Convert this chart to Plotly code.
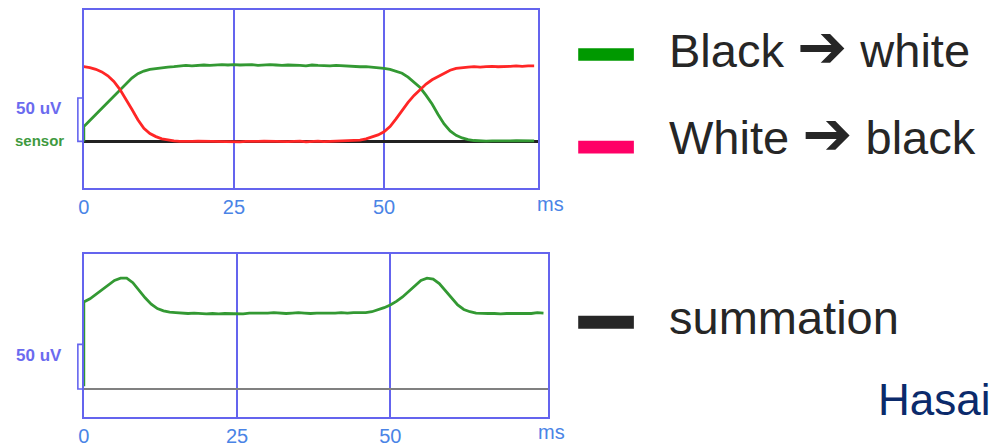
import plotly.graph_objects as go

W, H = 990, 447

# ---- data (ms, uV) ----
t_ms = [0, 0, 1, 2, 3, 4, 5, 6, 7, 8, 9, 10, 11, 12, 13, 14, 15, 16, 17, 18, 19,
        20, 21, 22, 23, 24, 25, 26, 27, 28, 29, 30, 31, 32, 33, 34, 35, 36, 37, 38, 39,
        40, 41, 42, 43, 44, 45, 46, 47, 48, 49, 50, 51, 52, 53, 54, 55, 56, 57, 58, 59,
        60, 61, 62, 63, 64, 65, 66, 67, 68, 69, 70, 71, 72, 73, 74, 75]

black_to_white = [0, 17, 24, 31, 38, 46, 53, 60, 67, 73, 78, 81, 83, 84, 85, 85.5, 86, 86.5, 87.5, 87, 87.5,
                  88, 87.5, 88, 88.5, 88, 88.5, 88, 88, 88.5, 87.5, 88, 88.5, 88, 87.5, 88, 88, 87.5, 87, 88, 87.5,
                  87, 87, 87.5, 87, 86.5, 86.5, 86, 86, 85.5, 85, 84, 83, 81, 78.5, 74, 68, 62, 53, 43, 31,
                  20, 12, 7, 4, 2, 1, 0.5, 0.3, 0.5, 0.3, 0, 0.5, 0.8, 0.5, 0.5, 0.6]

white_to_black = [86, 86, 85, 83, 80, 75.5, 69, 60, 49, 37, 25, 15, 9, 5.5, 3, 1.5, 0.5, 0, -0.3, 0, 0.2,
                  0, -0.3, 0, -0.4, -0.6, -0.9, -0.5, 0, -0.3, 0, 0.2, 0, -0.4, 0, -0.2, 0, 0.3, -0.6, 0, 0.2,
                  -0.3, 0, 0.2, 0, 0.3, 0.8, 1.5, 3, 5, 7.5, 11, 17, 26, 36, 45, 53, 60, 66, 71, 75,
                  79, 82, 84, 85, 85.5, 86, 85.5, 86, 86.5, 86, 86, 86.5, 87, 86.5, 87, 87]

summation = [3, 97.5, 101, 106, 111, 117, 121.5, 124, 124, 119, 110, 102, 95, 90, 87.5, 86, 85.5, 85, 84.5, 85, 84.5,
             84, 84.5, 84, 84.5, 84.5, 84.5, 84, 85, 85, 84.5, 85, 85.5, 85, 84.5, 85, 85.5, 85, 84.5, 85, 85,
             84.5, 85, 85.5, 85, 85.5, 85.5, 85.5, 86.5, 88.5, 91, 94, 98, 103, 109, 116, 121.5, 124, 123, 118, 110,
             101, 94, 89, 86.5, 85, 84.5, 84.5, 84.5, 84, 84.5, 84.5, 84.5, 84, 84.5, 85.5, 85]

tick_vals = [0, 25, 50]
tick_text = ["0", "25", "50"]
ARROW = "<span style='font-family:DejaVu Sans;font-size:60px'>\u2794</span>"
legend_labels = [f"Black {ARROW} white", f"White {ARROW} black", "summation"]

X_SHIFT = -5


def px(x):
    return (x + X_SHIFT) / W


def py(y):
    return 1 - y / H


BLUE = "#6464ee"
TICKBLUE = "#4a84e6"
GREEN = "#339933"
RED = "#ff2626"

fig = go.Figure()
fig.add_trace(go.Scatter(x=t_ms, y=black_to_white, mode="lines",
                         line=dict(color=GREEN, width=2.8), xaxis="x", yaxis="y",
                         showlegend=False))
fig.add_trace(go.Scatter(x=t_ms, y=white_to_black, mode="lines",
                         line=dict(color=RED, width=2.8), xaxis="x", yaxis="y",
                         showlegend=False))
fig.add_trace(go.Scatter(x=t_ms, y=summation, mode="lines",
                         line=dict(color=GREEN, width=2.8), xaxis="x2", yaxis="y2",
                         showlegend=False))

xcommon = dict(tickvals=tick_vals, ticktext=tick_text, showgrid=True, gridcolor=BLUE,
               gridwidth=2, showline=True, mirror=True, linecolor=BLUE, linewidth=2,
               zeroline=False, ticks="", tickfont=dict(family="Liberation Sans", size=20, color=TICKBLUE),
               fixedrange=True)
ycommon = dict(showticklabels=False, showgrid=False, showline=True, mirror=True,
               linecolor=BLUE, linewidth=2, ticks="", zeroline=True, fixedrange=True)

fig.update_layout(
    width=W, height=H, margin=dict(l=0, r=0, t=0, b=0),
    paper_bgcolor="white", plot_bgcolor="white",
    xaxis=dict(domain=[px(83.3), px(540)], range=[0, 75.6], anchor="y", **xcommon),
    yaxis=dict(domain=[py(191), py(10)], range=[-54.2, 151.5], anchor="x",
               zerolinecolor="#222222", zerolinewidth=2.6, **ycommon),
    xaxis2=dict(domain=[px(83.3), px(550.7)], range=[0, 75.8], anchor="y2", **xcommon),
    yaxis2=dict(domain=[py(422.3), py(257.7)], range=[-30.9, 150.8], anchor="x2",
                zerolinecolor="#808080", zerolinewidth=1.6, **ycommon),
)

shapes = []
# 50 uV scale brackets
for yref in ["y", "y2"]:
    shapes.append(dict(type="path", xref="paper", yref=yref,
                       path=f"M {px(83.3)},0 L {px(77.3)},0 L {px(77.3)},50 L {px(83.3)},50",
                       line=dict(color=BLUE, width=1.6)))
# legend bars
bar_cols = ["#009900", "#ff0066", "#262626"]
bar_y = [(49, 61.7), (142.7, 155.7), (320, 333.3)]
for c, (y0, y1) in zip(bar_cols, bar_y):
    shapes.append(dict(type="rect", xref="paper", yref="paper",
                       x0=px(580.7), x1=px(636.7), y0=py(y1), y1=py(y0),
                       fillcolor=c, line=dict(width=0)))
fig.update_layout(shapes=shapes)

ann = []
ann.append(dict(x=px(553), y=py(207), text="ms"))
ann.append(dict(x=px(554), y=py(438), text="ms"))
for a in ann:
    a.update(xref="paper", yref="paper", showarrow=False, xanchor="center", yanchor="middle",
             font=dict(family="Liberation Sans", size=20, color=TICKBLUE))

side = [
    dict(x=px(38), y=py(110), text="<b>50 uV</b>", font=dict(family="Liberation Sans", size=17, color="#6b6bef")),
    dict(x=px(39), y=py(142), text="<b>sensor</b>", font=dict(family="Liberation Sans", size=15, color="#3f9a3f")),
    dict(x=px(38), y=py(360), text="<b>50 uV</b>", font=dict(family="Liberation Sans", size=17, color="#6b6bef")),
]
for a in side:
    a.update(xref="paper", yref="paper", showarrow=False, xanchor="center", yanchor="middle")
ann += side

leg_y = [47, 135, 322]
for lab, yy in zip(legend_labels, leg_y):
    ann.append(dict(x=px(670), y=py(yy), text=lab, xref="paper", yref="paper", showarrow=False,
                    xanchor="left", yanchor="middle",
                    font=dict(family="Liberation Sans", size=47, color="#262626")))
ann.append(dict(x=px(880), y=py(405), text="Hasai", xref="paper", yref="paper", showarrow=False,
                xanchor="left", yanchor="middle",
                font=dict(family="Liberation Sans", size=44, color="#0b2a6b")))
fig.update_layout(annotations=ann)

fig.write_html("out.html", config={"displayModeBar": False})
